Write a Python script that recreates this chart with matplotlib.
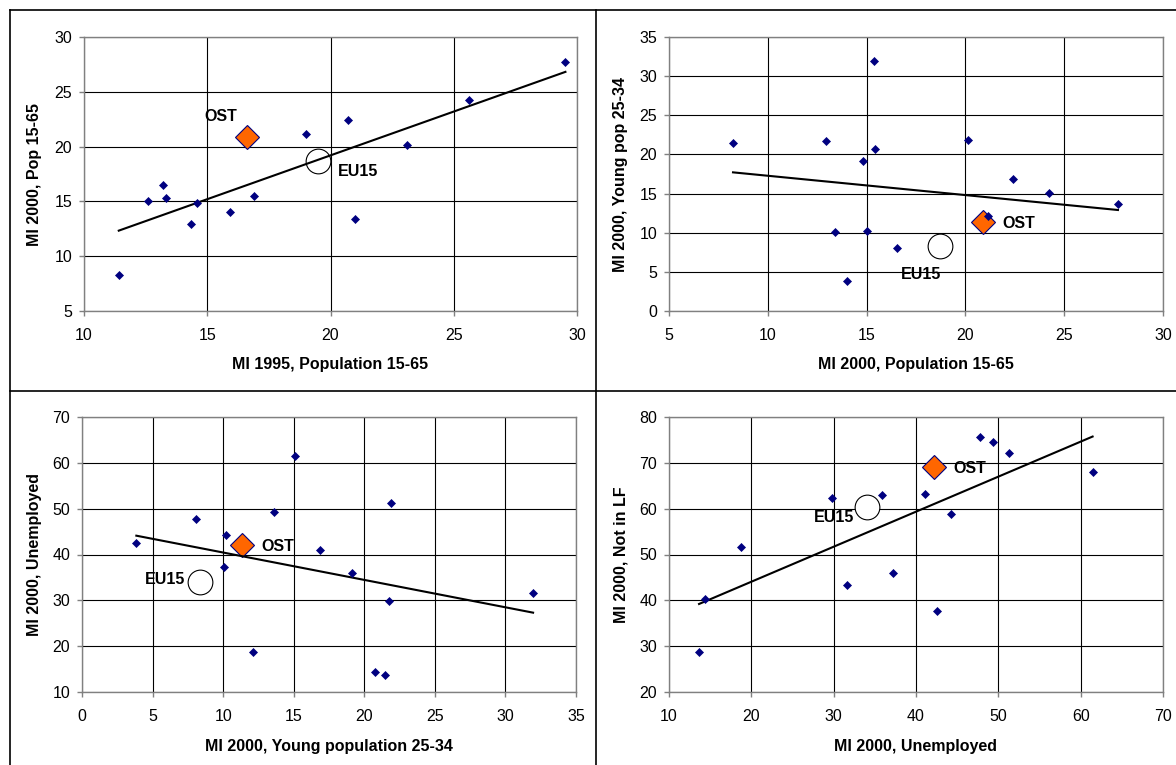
import numpy as np
import matplotlib
matplotlib.use("Agg")
import matplotlib.pyplot as plt
from matplotlib.lines import Line2D
from matplotlib.ticker import MultipleLocator

plt.rcParams['font.family'] = ['Liberation Sans', 'DejaVu Sans']

# ---- data: 14 countries (same order in every list) ----
mi1995_pop = [11.41, 12.60, 13.20, 13.33, 14.33, 14.60, 15.92, 16.88, 19.00, 20.73, 21.00, 23.12, 25.60, 29.53]
mi2000_pop = [8.24, 15.01, 16.54, 15.35, 12.94, 14.83, 14.03, 15.45, 21.14, 22.42, 13.40, 20.15, 24.25, 27.72]
mi2000_young = [21.47, 10.22, 8.06, 31.96, 21.76, 19.15, 3.85, 20.75, 12.15, 16.84, 10.06, 21.89, 15.06, 13.62]
mi2000_unemp = [13.65, 44.24, 47.73, 31.66, 29.75, 35.92, 42.51, 14.42, 18.72, 41.07, 37.25, 51.28, 61.45, 49.36]
mi2000_notlf = [28.73, 58.90, 75.70, 43.35, 62.40, 63.05, 37.75, 40.36, 51.70, 63.27, 45.90, 72.10, 68.00, 74.60]

# aggregates, order: mi1995_pop, mi2000_pop, mi2000_young, mi2000_unemp, mi2000_notlf
ost_values = [16.60, 20.88, 11.34, 42.14, 69.03]
eu15_values = [19.49, 18.73, 8.34, 34.06, 60.40]

variables = [mi1995_pop, mi2000_pop, mi2000_young, mi2000_unemp, mi2000_notlf]

# panels: (x index, y index, x title, y title, xlim, ylim, xstep, ystep, axes px box, ost offset, eu offset)
W, H = 1176, 765
panels = [
    (0, 1, "MI 1995, Population 15-65", "MI 2000, Pop 15-65", (10, 30), (5, 30), 5, 5,
     (84, 37, 577, 311), (-26, 20), (40, -11)),
    (1, 2, "MI 2000, Population 15-65", "MI 2000, Young pop 25-34", (5, 30), (0, 35), 5, 5,
     (669, 37, 1163, 311), (36, -1), (-19, -29)),
    (2, 3, "MI 2000, Young population 25-34", "MI 2000, Unemployed", (0, 35), (10, 70), 5, 10,
     (82, 417, 576, 692), (36, -2), (-35, 2)),
    (3, 4, "MI 2000, Unemployed", "MI 2000, Not in LF", (10, 70), (20, 80), 10, 10,
     (669, 417, 1163, 692), (36, -1), (-33, -11)),
]

FS = 11.5

fig = plt.figure(figsize=(W / 100, H / 100), dpi=100)
fig.patch.set_facecolor('white')

for xi, yi, xt, yt, xlim, ylim, xs, ys, box, ost_off, eu_off in panels:
    l, t, r, b = box
    ax = fig.add_axes([l / W, 1 - b / H, (r - l) / W, (b - t) / H])
    x = np.array(variables[xi])
    y = np.array(variables[yi])
    ax.set_xlim(*xlim)
    ax.set_ylim(*ylim)
    ax.xaxis.set_major_locator(MultipleLocator(xs))
    ax.yaxis.set_major_locator(MultipleLocator(ys))
    ax.grid(True, color='black', linewidth=0.8, zorder=0)
    ax.set_axisbelow(True)
    for sp in ax.spines.values():
        sp.set_color('#808080')
        sp.set_linewidth(1.0)
    ax.tick_params(axis='both', direction='out', length=3.5, width=1, color='#808080',
                   labelsize=FS, labelcolor='black')
    ax.tick_params(axis='x', pad=9.0)
    ax.tick_params(axis='y', pad=5.0)

    # aggregates
    ox, oy = ost_values[xi], ost_values[yi]
    ex, ey = eu15_values[xi], eu15_values[yi]
    ax.plot([ex], [ey], 'o', ms=17.8, mfc='white', mec='black', mew=0.8, zorder=3, clip_on=False)
    ax.plot([ox], [oy], 'D', ms=12.7, mfc='#FF6600', mec='#000080', mew=0.8, zorder=3, clip_on=False)

    # linear trend over all plotted points
    allx = np.concatenate([x, [ox, ex]])
    ally = np.concatenate([y, [oy, ey]])
    k, c = np.polyfit(allx, ally, 1)
    xx = np.array([x.min(), x.max()])
    ax.plot(xx, k * xx + c, color='black', lw=1.5, zorder=4)

    ax.plot(x, y, 'D', ms=4.3, mfc='#000080', mec='#000080', mew=0.5, ls='none', zorder=5)

    ax.annotate("OST", (ox, oy), xytext=ost_off, textcoords='offset pixels',
                ha='center', va='center', fontsize=FS, fontweight='bold', zorder=6)
    ax.annotate("EU15", (ex, ey), xytext=eu_off, textcoords='offset pixels',
                ha='center', va='center', fontsize=FS, fontweight='bold', zorder=6)

    ax.set_xlabel(xt, fontsize=FS, fontweight='bold')
    ax.set_ylabel(yt, fontsize=FS, fontweight='bold')
    ax.xaxis.label.set_verticalalignment('center')
    ax.yaxis.label.set_verticalalignment('center')
    ax.xaxis.set_label_coords(0.5, -(365 - 311) / (b - t) if t < 300 else -(746 - 692) / (b - t))
    ylab_x = 35 if l < 300 else 621
    ax.yaxis.set_label_coords((ylab_x - l) / (r - l), 0.5)

# panel frames
def fline(x0, y0, x1, y1):
    fig.add_artist(Line2D([x0 / W, x1 / W], [1 - y0 / H, 1 - y1 / H], color='black', lw=1.2,
                          transform=fig.transFigure))

fline(10, 10, W, 10)
fline(10, 10, 10, H)
fline(596, 10, 596, H)
fline(10, 391, W, 391)

fig.savefig("out.png", dpi=100)
